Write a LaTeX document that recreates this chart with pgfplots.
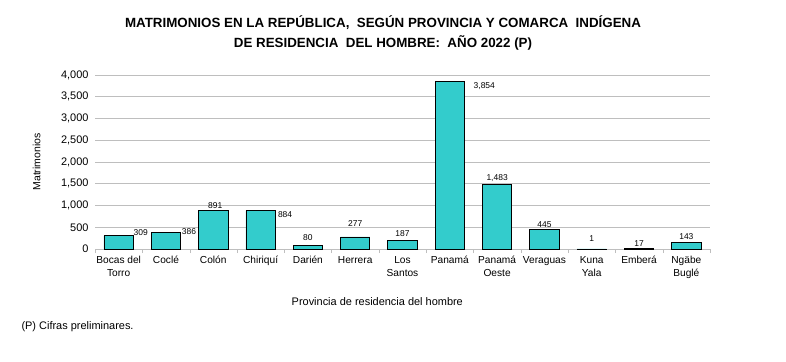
\documentclass[border=0pt]{standalone}
\usepackage{fontspec}
\setmainfont{Liberation Sans}
\usepackage{pgfplots}
\usepackage{pgfplotstable}
\pgfplotsset{compat=1.18}
\definecolor{barfill}{RGB}{51,204,204}
\definecolor{gridgray}{RGB}{190,190,190}
\pgfplotstableread{
x y dx dy
0 309 22 3.3
1 386 23 0.5
2 891 2 4.5
3 884 24.5 -4.5
4 80 0 7.8
5 277 0 13.7
6 187 0 7.6
7 3854 34.5 -4.6
8 1483 0 6.2
9 445 0 4.6
10 1 0 10
11 17 0 5
12 143 0 6
}\datatable
\begin{document}
\begin{tikzpicture}[x=1bp,y=1bp]
\path (0,0) rectangle (786,361);
\node[align=center, font=\fontsize{13.4}{20}\selectfont\bfseries] at (383,328)
 {MATRIMONIOS EN LA REPÚBLICA,\ \ SEGÚN PROVINCIA Y COMARCA\ \ INDÍGENA\\DE RESIDENCIA\ \ DEL HOMBRE:\ \ AÑO 2022 (P)};
\node[anchor=west, font=\fontsize{11}{12}\selectfont] at (18,34) {(P) Cifras preliminares.};
\begin{axis}[
  at={(95bp,112bp)}, anchor=south west,
  scale only axis, width=615bp, height=174bp,
  ybar, bar width=0.62, bar shift=0pt,
  xmin=-0.5, xmax=12.5, ymin=0, ymax=4000,
  ytick={0,500,...,4000},
  xtick={0,...,12},
  xticklabels={{Bocas del\\Torro},Coclé,Colón,Chiriquí,Darién,Herrera,{Los\\Santos},Panamá,{Panamá\\Oeste},Veraguas,{Kuna\\Yala},Emberá,{Ngäbe\\Buglé}},
  minor xtick={-0.5,0.5,...,12.5},
  major tick length=0pt,
  minor tick length=4bp,
  tick align=outside,
  minor tick style={gridgray},
  ymajorgrids, major grid style={gridgray, line width=0.6pt},
  axis x line*=bottom, axis y line*=left,
  x axis line style={gridgray, line width=0.6pt, -},
  y axis line style={draw=none},
  xticklabel style={font=\fontsize{10.2}{13.5}\selectfont, align=center, anchor=north, yshift=-3.5bp},
  yticklabel style={font=\fontsize{11}{13}\selectfont, xshift=-3bp},
  /pgf/number format/assume math mode=true,
  /pgf/number format/1000 sep={,},
  scaled y ticks=false,
  ylabel={Matrimonios},
  ylabel style={at={(axis description cs:-0.095,0.5)}, anchor=center, rotate=0, font=\fontsize{10.5}{12}\selectfont},
  xlabel={Provincia de residencia del hombre},
  xlabel style={at={(axis description cs:0.459,-0.305)}, anchor=center, font=\fontsize{11}{12}\selectfont},
  nodes near coords,
  point meta=explicit,
  visualization depends on={\thisrow{dx} \as \ldx},
  visualization depends on={\thisrow{dy} \as \ldy},
  nodes near coords style={anchor=center, xshift=\ldx bp, yshift=\ldy bp, font=\fontsize{8.5}{10}\selectfont, /pgf/number format/assume math mode=true, /pgf/number format/1000 sep={,}},
]
\addplot[fill=barfill, draw=black, line width=0.8pt] table[x=x, y=y, meta=y] {\datatable};
\end{axis}
\end{tikzpicture}
\end{document}
